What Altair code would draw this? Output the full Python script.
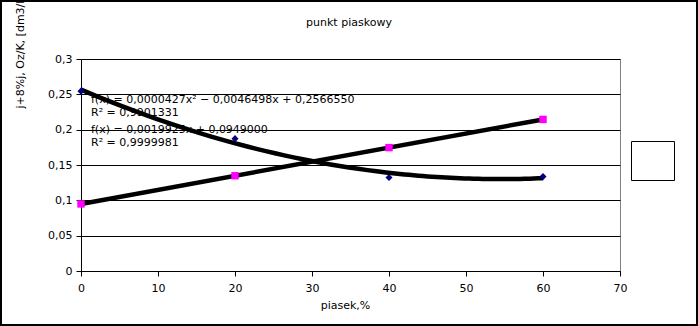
import altair as alt
import pandas as pd

# ---- data ----
piasek = [0, 20, 40, 60]
series_poly = [0.2545, 0.1873, 0.1324, 0.1336]   # diamonds (navy)
series_lin = [0.0949, 0.1348, 0.1746, 0.2145]    # squares (magenta)
x_ticks = [0, 10, 20, 30, 40, 50, 60, 70]
y_ticks = [0, 0.05, 0.1, 0.15, 0.2, 0.25, 0.3]
annotations = [
    "f(x) = 0,0000427x² − 0,0046498x + 0,2566550",
    "R² = 0,9901331",
    "f(x) = 0,0019925x + 0,0949000",
    "R² = 0,9999981",
]
chart_title = "punkt piaskowy"
x_title = "piasek,%"
y_title = "j+8%j, Oz/K, [dm3/kg]"

FONT = "DejaVu Sans"
FS = 11
W, H = 539, 212

df = pd.DataFrame({"x": piasek, "a": series_poly, "b": series_lin})

xs = alt.Scale(domain=[0, 70], nice=False)
ys = alt.Scale(domain=[0, 0.3], nice=False)

x_axis = alt.Axis(values=x_ticks, title=x_title, grid=False, titleX=264, titleY=34,
                  titleBaseline="middle", labelPadding=6, labelOverlap=False,
                  labelFlush=False)
y_axis = alt.Axis(values=y_ticks, title=y_title, grid=True, titleAngle=270,
                  titleX=-61, titleY=49, titleAlign="left", titleBaseline="middle",
                  labelExpr="replace(format(datum.value, '~g'), '.', ',')", labelPadding=4,
                  labelOverlap=False, labelFlush=False)

X = alt.X("x:Q", scale=xs, axis=x_axis)


def Y(field):
    return alt.Y(f"{field}:Q", scale=ys, axis=y_axis)


base = alt.Chart(df)

# annotation texts (drawn below lines)
ann_layers = []
for txt, yy in zip(annotations, [41, 54, 71, 84]):
    ann_layers.append(
        alt.Chart(pd.DataFrame({"t": [txt]})).mark_text(
            align="left", baseline="middle", font=FONT, fontSize=FS, color="black"
        ).encode(x=alt.value(10), y=alt.value(yy), text="t:N")
    )

reg_poly = base.transform_regression("x", "a", method="poly", order=2, extent=[0, 60]).mark_line(
    color="black", strokeWidth=4.5
).encode(x=X, y=Y("a"))

reg_lin = base.transform_regression("x", "b", method="linear", extent=[0, 60]).mark_line(
    color="black", strokeWidth=4.5
).encode(x=X, y=Y("b"))

pts_a = base.mark_point(shape="diamond", filled=True, color="#000080", size=50, opacity=1).encode(
    x=X, y=Y("a")
)
pts_b = base.mark_square(color="#ff00ff", size=55, opacity=1).encode(
    x=X, y=Y("b")
)

title_txt = alt.Chart(pd.DataFrame({"t": [chart_title]})).mark_text(
    align="center", baseline="middle", font=FONT, fontSize=FS, color="black"
).encode(x=alt.value(268), y=alt.value(-36), text="t:N")

legend_box = alt.Chart(pd.DataFrame({"k": [0]})).mark_rect(
    fill="white", stroke="black", strokeWidth=1
).encode(x=alt.value(550.5), x2=alt.value(593.5), y=alt.value(82.5), y2=alt.value(121.5))

outer = alt.Chart(pd.DataFrame({"k": [0]})).mark_rect(
    fill=None, fillOpacity=0, stroke="black", strokeWidth=2
).encode(x=alt.value(-80), x2=alt.value(616), y=alt.value(-58), y2=alt.value(266))

chart = alt.layer(
    *ann_layers, reg_poly, reg_lin, pts_a, pts_b, title_txt, legend_box, outer
).properties(
    width=W, height=H,
    autosize=alt.AutoSizeParams(type="none"),
    padding={"left": 81, "top": 59, "right": 78, "bottom": 55},
    background="white",
).configure_view(
    stroke="#808080", strokeWidth=1
).configure_axis(
    domainColor="black", tickColor="black", gridColor="black", gridOpacity=1,
    labelColor="black", labelFont=FONT, labelFontSize=FS, tickSize=5,
    titleColor="black", titleFont=FONT, titleFontSize=FS, titleFontWeight="normal",
    domainWidth=1, gridWidth=1, tickWidth=1,
)

chart.save("out.html", embed_options={"renderer": "svg", "actions": False})
